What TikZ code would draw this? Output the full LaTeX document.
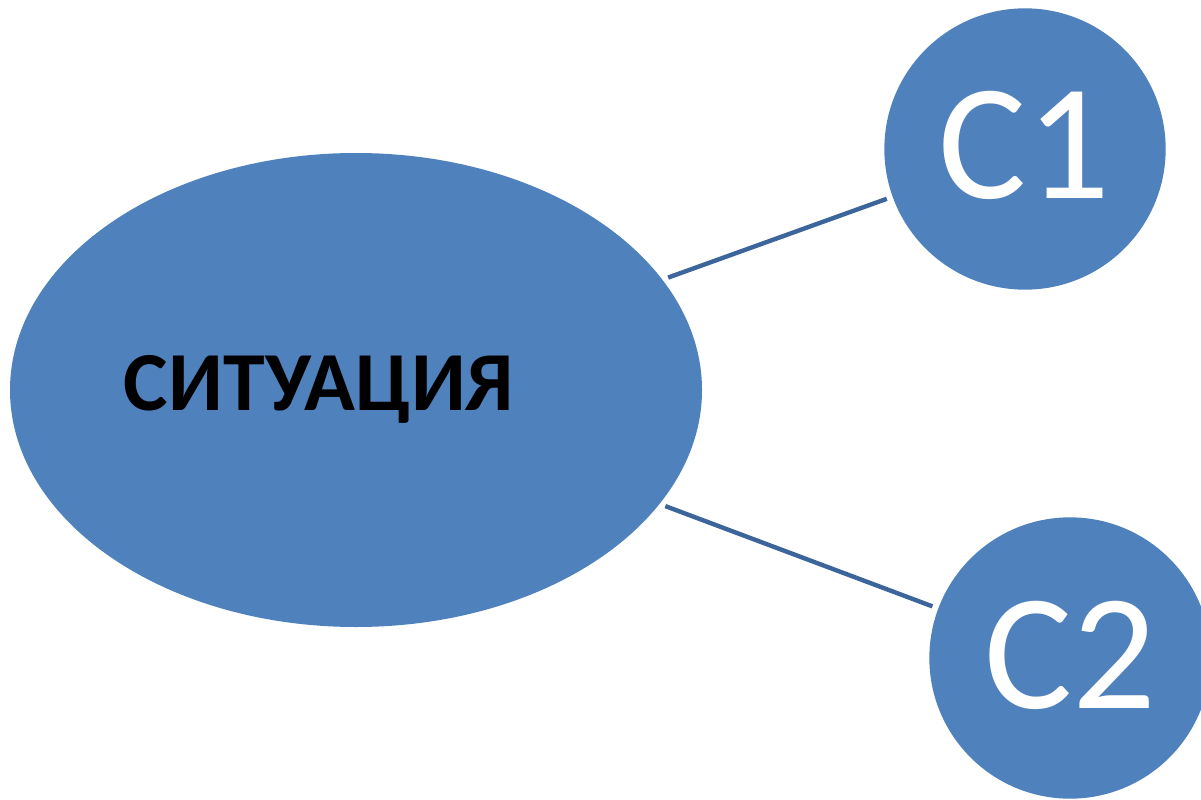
\documentclass[tikz,border=0pt]{standalone}
\usepackage{fontspec}
\setmainfont{Carlito}
\usepackage{xcolor}
\usepackage{tikz}
\usetikzlibrary{positioning,shapes.geometric}

\definecolor{blob}{HTML}{4F81BD}
\definecolor{link}{HTML}{3C669B}

\begin{document}
\begin{tikzpicture}[x=0.75pt,y=-0.75pt,
  blobe/.style={ellipse, fill=blob, inner sep=0pt, minimum width=519pt, minimum height=355.5pt},
  blobc/.style={circle, fill=blob, inner sep=0pt, minimum size=211pt},
  blobt/.style={text=white, font=\fontsize{124}{124}\selectfont},
  linkline/.style={link, line width=3.3pt, shorten <=4.5pt, shorten >=4.5pt}]

\useasboundingbox (0,0) rectangle (1201,799);
\clip (0,0) rectangle (1201,799);

\node[blobe](sit) at (356,390) {};
\node[font=\bfseries\fontsize{63}{63}\selectfont](label) at (319,389) {СИТУАЦИЯ};

\node[blobc](c1) at (1025,149) {};
\node[blobt](t1) at (1024,145) {C1};
\node[blobc](c2) at (1070,658) {};
\node[blobt](t2) at (1070,655) {C2};

\draw[linkline] (sit) -- (c1);
\draw[linkline] (sit) -- (c2);
\end{tikzpicture}
\end{document}
